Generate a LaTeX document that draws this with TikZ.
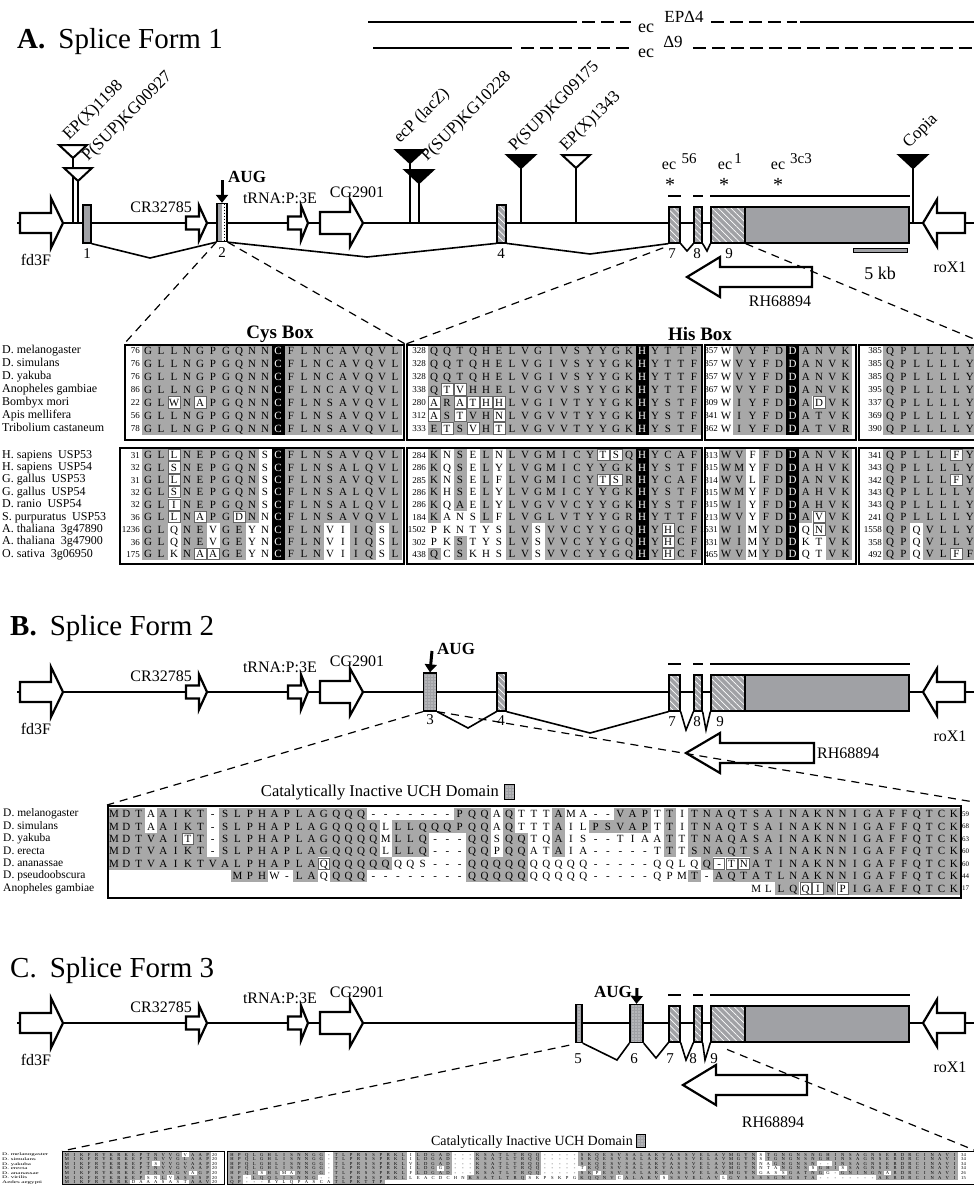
\documentclass[tikz,border=0pt]{standalone}
\usepackage{fontspec}
\setmainfont{Liberation Serif}
\usepackage{graphicx}
\usetikzlibrary{arrows.meta,positioning,calc,patterns.meta}
\definecolor{exgray}{RGB}{160,161,165}
\definecolor{algray}{RGB}{168,168,168}
\definecolor{cellline}{RGB}{100,100,100}
\newcommand{\fsz}[1]{\fontsize{#1}{#1}\selectfont}
% block arrow: tail x, head base x, tip x, y, half body, half head
\newcommand{\garrow}[6]{\draw[garr] (#1,#4-#5) -- (#2,#4-#5) -- (#2,#4-#6) -- (#3,#4)
  -- (#2,#4+#6) -- (#2,#4+#5) -- (#1,#4+#5) -- cycle;}
% insertion: name, x, top y, fill, y of gene line
\newcommand{\instri}[5]{\coordinate (#1) at (#2,#3+13); \coordinate (#1b) at (#2,#5);
  \draw[insstem] (#1) -- (#1b);
  \draw[tri,fill=#4] (#2-14,#3) -- (#2+14,#3) -- (#1) -- cycle;}
% gene line with the neighbouring genes
\newcommand{\genemodel}[2]{%
  \coordinate (#2w) at (17,#1); \coordinate (#2e) at (974,#1);
  \draw[gline] (#2w) -- (#2e);
  \garrow{20}{51}{63}{#1}{10}{25}
  \garrow{186}{199}{207}{#1}{6.5}{17.5}
  \garrow{288}{301}{308}{#1}{6.5}{17.5}
  \garrow{320}{350}{363}{#1}{11}{23.5}
  \garrow{965}{937}{923}{#1}{10}{23.5}
  \node[glab] (#2fd) at (36,#1+37) {fd3F};
  \node[glab,anchor=east] (#2cr) at (192,#1-16) {CR32785};
  \node[glab,anchor=east] (#2tr) at (317,#1-25) {tRNA:P:3E};
  \node[glab] (#2cg) at (357,#1-31) {CG2901};
  \node[glab] (#2ro) at (950,#1+44) {roX1};}
% alignment rows: mask (g gray, b black, w boxed white, n none), then letters (! = white on black, : = empty)
\newcount\alk
\newif\ifalauto
\def\alcol{black}\def\alh{12}
\newcommand{\almask}[5]{\def\alx{#1}\def\alp{#2}\def\aly{#3}\def\alh{#4}\alk=0\relax
  \expandafter\almaskloop#5\relax}
\def\almaskloop#1{\ifx#1\relax\else
  \if#1g\fill[algray] ({\alx+\alp*\the\alk-\alp/2},{\aly-\alh/2}) rectangle ++(\alp,\alh);\fi
  \if#1b\fill[black] ({\alx+\alp*\the\alk-\alp/2},{\aly-\alh/2}) rectangle ++(\alp,\alh);\fi
  \if#1w\draw[wcell] ({\alx+\alp*\the\alk-\alp/2+0.6},{\aly-\alh/2+0.6}) rectangle ++(\alp-1.2,\alh-1.2);\fi
  \advance\alk by 1 \expandafter\almaskloop\fi}
\newcommand{\alseq}[5]{\def\aln{#1}\def\alx{#2}\def\alp{#3}\def\aly{#4}\alk=0\relax
  \expandafter\alseqloop#5\relax}
\def\alseqloop#1{\ifx#1\relax\else
  \if#1!\def\alcol{white}\else
    \if#1:\else
      \ifalauto\ifnum`#1>`Z \else\if#1-\else
        \fill[algray] ({\alx+\alp*\the\alk-\alp/2},{\aly-\alh/2}) rectangle ++(\alp,\alh);\fi\fi\fi
      \node[aa,text=\alcol] (\aln\the\alk) at ({\alx+\alp*\the\alk},\aly) {\uppercase{#1}};
    \fi
    \def\alcol{black}\advance\alk by 1
  \fi
  \expandafter\alseqloop\fi}
\newcommand{\alrow}[7]{\almask{#2}{#3}{#4}{#5}{#6}\alseq{#1}{#2}{#3}{#4}{#7}}

\begin{document}
\begin{tikzpicture}[x=1pt,y=-1pt,
  ttl/.style={font=\fsz{29},anchor=base west,inner sep=0pt},
  glab/.style={font=\fsz{16},inner sep=0pt},
  nlab/.style={font=\fsz{15},inner sep=0pt,text height=10pt,text depth=0pt},
  inslab/.style={font=\fsz{17},anchor=base west,rotate=45,inner sep=0pt,text height=11pt,text depth=0pt},
  boldlab/.style={font=\fsz{17}\bfseries,inner sep=0pt},
  gline/.style={line width=1.5pt},
  garr/.style={draw,line width=2.2pt,fill=white,line join=miter,miter limit=25},
  tri/.style={draw,line width=2pt,line join=miter,miter limit=25},
  insstem/.style={line width=1.6pt},
  exon/.style={draw,line width=1.3pt,fill=exgray,inner sep=0pt,minimum height=38pt},
  hatched/.style={preaction={fill=exgray},pattern={Lines[angle=-45,distance=4.5pt,line width=0.7pt]},pattern color=white},
  stipple/.style={preaction={fill=exgray},pattern={Dots[distance=3pt,radius=0.65pt]},pattern color=white},
  splice/.style={line width=1.6pt},
  zoomln/.style={line width=1.2pt,dash pattern=on 8pt off 6pt},
  tline/.style={line width=1.8pt},
  tdash/.style={line width=1.8pt,dash pattern=on 13pt off 6pt},
  exbar/.style={line width=2.2pt},
  augarr/.style={line width=3pt,-{Triangle[width=12pt,length=8pt]}},
  alframe/.style={draw,line width=2.2pt,inner sep=0pt,anchor=north west},
  wcell/.style={draw=cellline,line width=0.7pt,fill=white},
  spn/.style={anchor=west,inner sep=0pt,font=\fsz{12},text height=8.5pt,text depth=2.5pt},
  alnum/.style={anchor=east,inner sep=0pt,font=\fsz{9},text height=6.5pt,text depth=0pt},
  aa/.style={inner sep=0pt,font=\fsz{11},text height=7.3pt,text depth=0pt}]
\useasboundingbox (0,0) rectangle (974,1189);

% ================= A. splice form 1
\node[ttl] (tA) at (17,48) {\textbf{A.}\hspace{0.45em}Splice Form 1};
% deficiencies
\coordinate (d1a) at (368,22); \coordinate (d1b) at (577,22);
\coordinate (d1c) at (800,22); \coordinate (d1d) at (974,22);
\coordinate (d2a) at (373,48); \coordinate (d2b) at (512,48);
\coordinate (d2d) at (974,48);
\node[glab,font=\fsz{18},text height=8.5pt,text depth=0pt] (ecA) at (646,28) {ec};
\node[glab,font=\fsz{17},text height=11.5pt,text depth=0pt] (epA) at (684,17) {EPΔ4};
\node[glab,font=\fsz{18},text height=8.5pt,text depth=0pt] (ecB) at (646,53) {ec};
\node[glab,font=\fsz{17},text height=11.5pt,text depth=0pt] (dnA) at (673,42) {Δ9};
\draw[tline] (d1a) -- (d1b);
\draw[tdash] ($(d1b)+(5,0)$) -- ($(ecA.west |- d1b)+(-7,0)$);
\draw[tdash] ($(epA.east |- d1c)+(7,0)$) -- ($(d1c)+(-3,0)$);
\draw[tline] (d1c) -- (d1d);
\draw[tline] (d2a) -- (d2b);
\draw[tdash] ($(d2b)+(9,0)$) -- ($(ecB.west |- d2b)+(-7,0)$);
\draw[tdash] ($(dnA.east |- d2d)+(10,0)$) -- (d2d);

\genemodel{223}{A}
% insertions
\instri{iA1}{73}{145}{white}{223}
\instri{iA2}{78}{168}{white}{223}
\instri{iA3}{410}{150}{black}{223}
\instri{iA4}{419}{170}{black}{223}
\instri{iA5}{521}{155}{black}{223}
\instri{iA6}{576}{155}{white}{223}
\instri{iA7}{913}{155}{black}{223}
\node[inslab] (lA1) at (69,141) {EP(X)1198};
\node[inslab] (lA2) at (88,162) {P(SUP)KG00927};
\node[inslab] (lA3) at (400,144) {ecP (lacZ)};
\node[inslab] (lA4) at (427,162) {P(SUP)KG10228};
\node[inslab] (lA5) at (515,152) {P(SUP)KG09175};
\node[inslab] (lA6) at (566,152) {EP(X)1343};
\node[inslab] (lA7) at (909,149) {Copia};
% exons
\node[exon,minimum width=8pt] (a1) at (87,224) {};
\node[exon,minimum width=10pt,path picture={
  \fill[white] (path picture bounding box.north) rectangle (path picture bounding box.south east);
  \draw[line width=0.8pt,dash pattern=on 1.5pt off 1.5pt] ([xshift=2.5pt]path picture bounding box.north) -- ([xshift=2.5pt]path picture bounding box.south);}] (a2) at (222,222.5) {};
\node[exon,hatched,minimum width=9pt] (a4) at (501.5,224) {};
\node[exon,hatched,minimum width=11pt,minimum height=36pt] (a7) at (674.5,225) {};
\node[exon,hatched,minimum width=8pt,minimum height=36pt] (a8) at (698,225) {};
\node[exon,minimum width=198pt,minimum height=36pt] (a9) at (810,225) {};
\node[exon,hatched,minimum width=34pt,minimum height=36pt,anchor=west] (a9h) at (a9.west) {};
\node[nlab] (nA1) at (87,253) {1};
\node[nlab] (nA2) at (222,252) {2};
\node[nlab] (nA4) at (501,253) {4};
\node[nlab] (nA7) at (672,253) {7};
\node[nlab] (nA8) at (697,253) {8};
\node[nlab] (nA9) at (729,253) {9};
% splicing
\coordinate (vA1) at (150,258); \coordinate (vA2) at (367,257); \coordinate (vA3) at (590,254);
\coordinate (vA4) at (687,251); \coordinate (vA5) at (707,251);
\draw[splice] (a1.south east) -- (vA1) -- (a2.south west);
\draw[splice] (a2.south east) -- (vA2) -- (a4.south west);
\draw[splice] (a4.south east) -- (vA3) -- (a7.south west);
\draw[splice] (a7.south east) -- (vA4) -- (a8.south west);
\draw[splice] (a8.south east) -- (vA5) -- (a9.south west);
\draw[exbar] ([yshift=10pt]a7.north west) -- ([yshift=10pt]a7.north east);
\draw[exbar] ([yshift=10pt]a8.north west) -- ([yshift=10pt]a8.north east);
\draw[exbar] ([yshift=10pt]a9.north west) -- ([yshift=10pt]a9.north east);
% start codon, alleles, scale
\coordinate (augA) at (222,180);
\draw[augarr] (augA) -- (a2.north);
\node[boldlab,anchor=west] (tAUGa) at (228,177) {AUG};
\node[glab,text height=7.5pt,text depth=0pt] (ec56) at (669,166) {ec};
\node[glab,font=\fsz{15},text height=10.5pt,text depth=0pt] (s56) at (689,158) {56};
\node[glab,text height=7.5pt,text depth=0pt] (ec1) at (725,166) {ec};
\node[glab,font=\fsz{15},text height=10.5pt,text depth=0pt] (s1) at (738,158) {1};
\node[glab,text height=7.5pt,text depth=0pt] (ec3) at (778,166) {ec};
\node[glab,font=\fsz{15},text height=10.5pt,text depth=0pt] (s3) at (801,158) {3c3};
\node[glab,font=\fsz{20},text height=10pt,text depth=0pt] (st1) at (670,186) {*};
\node[glab,font=\fsz{20},text height=10pt,text depth=0pt] (st2) at (724,186) {*};
\node[glab,font=\fsz{20},text height=10pt,text depth=0pt] (st3) at (778,186) {*};
\node[draw,fill=exgray,line width=0.6pt,inner sep=0pt,minimum width=54pt,minimum height=4pt] (sbar) at (880,250) {};
\node[glab,font=\fsz{18}] (skb) at (880,273) {5 kb};
\garrow{812}{720}{687}{277}{10}{20}
\node[glab] (rhA) at (780,301) {RH68894};

% alignment, upper group
\node[font=\fsz{19}\bfseries,inner sep=0pt] (cysT) at (280,334) {Cys Box};
\node[font=\fsz{19}\bfseries,inner sep=0pt] (hisT) at (700,334) {His Box};
\foreach \sp [count=\r] in {D. melanogaster,D. simulans,D. yakuba,Anopheles gambiae,Bombyx mori,Apis mellifera,Tribolium castaneum}
  \node[spn] (spU\r) at (2,{350.5+13*(\r-1)}) {\sp};
\foreach \nm/\mk/\sq [count=\r] in {
  76/ggggggggggbggggggggg/GLLNGPGQNN!CFLNCAVQVL,
  76/ggggggggggbggggggggg/GLLNGPGQNN!CFLNCAVQVL,
  76/ggggggggggbggggggggg/GLLNGPGQNN!CFLNCAVQVL,
  86/ggggggggggbggggggggg/GLLNGPGQNN!CFLNCAVQVL,
  22/ggwgwgggggbggggggggg/GLWNAPGQNN!CFLNSAVQVL,
  56/ggggggggggbggggggggg/GLLNGPGQNN!CFLNSAVQVL,
  78/ggggggggggbggggggggg/GLLNGPGQNN!CFLNSAVQVL}{
  \pgfmathsetmacro\yy{350.5+13*(\r-1)}
  \node[alnum] (cUn\r) at (140,\yy) {\nm};
  \alrow{cU\r x}{148}{13}{\yy}{13}{\mk}{\sq}}
\foreach \nm/\mk/\sq [count=\r] in {
  328/ggggggggggggggggbgggg/QQTQHELVGIVSYYGK!HYTTF,
  328/ggggggggggggggggbgggg/QQTQHELVGIVSYYGK!HYTTF,
  328/ggggggggggggggggbgggg/QQTQHELVGIVSYYGK!HYTTF,
  338/gwwgggggggggggggbgggg/QTVHHELVGVVSYYGK!HYTTF,
  280/wgwwwwggggggggggbgggg/ARATHHLVGIVTYYGK!HYSTF,
  312/wgwggwggggggggggbgggg/ASTVHNLVGVVTYYGK!HYSTF,
  333/gwgwgwggggggggggbgggg/ETSVHTLVGVVTYYGK!HYSTF}{
  \pgfmathsetmacro\yy{350.5+13*(\r-1)}
  \node[alnum] (hUn\r) at (426,\yy) {\nm};
  \alrow{hU\r x}{434}{13}{\yy}{13}{\mk}{\sq}}
\foreach \nm/\mk/\sq [count=\r] in {
  357/nggggbgggg/WVYFD!DANVK, 357/nggggbgggg/WVYFD!DANVK, 357/nggggbgggg/WVYFD!DANVK,
  367/nggggbgggg/WVYFD!DANVK, 309/nggggbgwgg/WIYFD!DADVK, 341/nggggbgggg/WIYFD!DATVK,
  362/nggggbgggg/WIYFD!DATVR}{
  \pgfmathsetmacro\yy{350.5+13*(\r-1)}
  \node[alnum] (dUn\r) at (718,\yy) {\nm};
  \alrow{dU\r x}{726}{13.3}{\yy}{13}{\mk}{\sq}}
\foreach \nm [count=\r] in {385,385,385,395,337,369,390}{
  \pgfmathsetmacro\yy{350.5+13*(\r-1)}
  \node[alnum] (qUn\r) at (882,\yy) {\nm};
  \alrow{qU\r x}{890}{13.3}{\yy}{13}{ggggggg}{QPLLLLY}}
\node[alframe,minimum width=279pt,minimum height=95pt] (cysU) at (124,344) {};
\node[alframe,minimum width=295pt,minimum height=95pt] (hisU) at (406,344) {};
\node[alframe,minimum width=151pt,minimum height=95pt] (dU) at (704,344) {};
\node[alframe,minimum width=130pt,minimum height=95pt] (qU) at (858,344) {};

% alignment, lower group
\foreach \sp [count=\r] in {H. sapiens\ \ USP53,H. sapiens\ \ USP54,G. gallus\ \ USP53,G. gallus\ \ USP54,D. ranio\ \ USP54,S. purpuratus\ \ USP53,A. thaliana\ \ 3g47890,A. thaliana\ \ 3g47900,O. sativa\ \ 3g06950}
  \node[spn] (spL\r) at (2,{455+12.4*(\r-1)}) {\sp};
\foreach \nm/\mk/\sq [count=\r] in {
  31/ggwggggggnbggggggggg/GLLNEPGQNS!CFLNSAVQVL,
  32/ggwggggggnbggggggggg/GLSNEPGQNS!CFLNSALQVL,
  31/ggwggggggnbggggggggg/GLLNEPGQNS!CFLNSAVQVL,
  32/ggwggggggnbggggggggg/GLSNEPGQNS!CFLNSALQVL,
  32/ggwggggggnbggggggggg/GLINEPGQNS!CFLNSALQVL,
  36/ggwgwggwgnbggggggggg/GLLNAPGDNN!CFLNSAVQVL,
  1236/ggnggnggnnbgggnnggng/GLQNEVGEYN!CFLNVIIQSL,
  36/ggnggnggnnbgggnnggng/GLQNEVGEYN!CFLNVIIQSL,
  175/ggngwwggnnbgggnnggng/GLKNAAGEYN!CFLNVIIQSL}{
  \pgfmathsetmacro\yy{455+12.4*(\r-1)}
  \node[alnum] (cLn\r) at (140,\yy) {\nm};
  \alrow{cL\r x}{148}{13}{\yy}{12.4}{\mk}{\sq}}
\foreach \nm/\mk/\sq [count=\r] in {
  284/gngngngggggggwwgbgggg/KNSELNLVGMICYTSQ!HYCAF,
  286/gngngnggggggggggbgggg/KQSELYLVGMICYYGK!HYSTF,
  285/gngngngggggggwwgbgggg/KNSELFLVGMICYTSR!HYCAF,
  286/gngngnggggggggggbgggg/KHSELYLVGMICYYGK!HYSTF,
  286/gngngnggggggggggbgggg/KQAELYLVGVVCYYGK!HYSTF,
  184/gnnngnggggggggggbgggg/KANSLFLVGLVTYYGR!HYTTF,
  1502/nnnnnnggngggggggbgwgg/PKNTYSLVSVVCYYGQ!HYHCF,
  302/nngnnnggngggggggbgwgg/PKSTYSLVSVVCYYGQ!HYHCF,
  438/gngnnnggngggggggbgwgg/QCSKHSLVSVVCYYGQ!HYHCF}{
  \pgfmathsetmacro\yy{455+12.4*(\r-1)}
  \node[alnum] (hLn\r) at (426,\yy) {\nm};
  \alrow{hL\r x}{434}{13}{\yy}{12.4}{\mk}{\sq}}
\foreach \nm/\mk/\sq [count=\r] in {
  313/ggnggbgggg/WVFFD!DANVK, 315/ggnggbgggg/WMYFD!DAHVK, 314/ggnggbgggg/WVLFD!DANVK,
  315/ggnggbgggg/WMYFD!DAHVK, 315/ggnggbgggg/WIYFD!DAHVK, 213/ggnggbgwgg/WVYFD!DAVVK,
  1531/ggnggbnwgg/WIMYD!DQNVK, 331/ggnggbnngg/WIMYD!DKTVK, 465/ggnggbnngg/WVMYD!DQTVK}{
  \pgfmathsetmacro\yy{455+12.4*(\r-1)}
  \node[alnum] (dLn\r) at (718,\yy) {\nm};
  \alrow{dL\r x}{726}{13.3}{\yy}{12.4}{\mk}{\sq}}
\foreach \nm/\mk/\sq [count=\r] in {
  341/gggggwg/QPLLLFY, 343/ggggggg/QPLLLLY, 342/gggggwg/QPLLLFY,
  343/ggggggg/QPLLLLY, 343/ggggggg/QPLLLLY, 241/ggggggg/QPLLLLY,
  1558/ggngggg/QPQVLLY, 358/ggngggg/QPQVLLY, 492/ggnggwg/QPQVLFF}{
  \pgfmathsetmacro\yy{455+12.4*(\r-1)}
  \node[alnum] (qLn\r) at (882,\yy) {\nm};
  \alrow{qL\r x}{890}{13.3}{\yy}{12.4}{\mk}{\sq}}
\node[alframe,minimum width=284pt,minimum height=116pt] (cysL) at (119,447) {};
\node[alframe,minimum width=295pt,minimum height=116pt] (hisL) at (406,447) {};
\node[alframe,minimum width=151pt,minimum height=116pt] (dL) at (704,447) {};
\node[alframe,minimum width=130pt,minimum height=116pt] (qL) at (858,447) {};
% zoom lines
\coordinate (zA) at (974,339);
\draw[zoomln] (a2.south west) -- (cysU.north west);
\draw[zoomln] (a2.south east) -- (cysU.north east);
\draw[zoomln,shorten <=12pt] (a7.south) -- (hisU.north west);
\draw[zoomln] (a9h.south east) -- (zA);

% ================= B. splice form 2
\node[ttl] (tB) at (10,635) {\textbf{B.}\hspace{0.45em}Splice Form 2};
\genemodel{692}{B}
\node[exon,stipple,minimum width=13pt] (b3) at (430,692) {};
\node[exon,hatched,minimum width=9pt] (b4) at (501.5,692) {};
\node[exon,hatched,minimum width=11pt,minimum height=36pt] (b7) at (674.5,693) {};
\node[exon,hatched,minimum width=8pt,minimum height=36pt] (b8) at (698,693) {};
\node[exon,minimum width=198pt,minimum height=36pt] (b9) at (810,693) {};
\node[exon,hatched,minimum width=34pt,minimum height=36pt,anchor=west] (b9h) at (b9.west) {};
\node[nlab] (nB3) at (430,719) {3};
\node[nlab] (nB4) at (501,720) {4};
\node[nlab] (nB7) at (672,721) {7};
\node[nlab] (nB8) at (697,721) {8};
\node[nlab] (nB9) at (720,721) {9};
\coordinate (vB1) at (468,728); \coordinate (vB2) at (590,733);
\coordinate (vB3) at (686,730); \coordinate (vB4) at (706,730);
\draw[splice] (b3.south east) -- (vB1) -- (b4.south west);
\draw[splice] (b4.south east) -- (vB2) -- (b7.south west);
\draw[splice] (b7.south east) -- (vB3) -- (b8.south west);
\draw[splice] (b8.south east) -- (vB4) -- (b9.south west);
\draw[exbar] ([yshift=10pt]b7.north west) -- ([yshift=10pt]b7.north east);
\draw[exbar] ([yshift=10pt]b8.north west) -- ([yshift=10pt]b8.north east);
\draw[exbar] ([yshift=10pt]b9.north west) -- ([yshift=10pt]b9.north east);
\coordinate (augB) at (432,651);
\draw[augarr] (augB) -- (b3.north);
\node[boldlab,anchor=west] (tAUGb) at (437,649) {AUG};
\garrow{814}{720}{686}{753}{10}{20}
\node[glab,anchor=west] (rhB) at (817,753) {RH68894};
\node[glab,font=\fsz{16.5},anchor=east] (catB) at (499,793) {Catalytically Inactive UCH Domain};
\node[exon,stipple,line width=1pt,minimum width=10pt,minimum height=15pt] (legB) at (509,792) {};
% alignment
\begin{scope}[aa/.style={inner sep=0pt,font=\fsz{11},text height=7.3pt,text depth=0pt},
  spn/.style={anchor=west,inner sep=0pt,font=\fsz{11.5},text height=8pt,text depth=2.4pt}]
\foreach \sp/\mk/\sq/\nr [count=\r] in {
  D. melanogaster/ggg n gggg n gggggggggggg nnnnnnn ggg n g nnn g nnnn ggg n g n gggggggggg gggggggggg gg/
    MDTAAIKT - SLPHAPLAGQQQ ------- PQQAQTTTAMA -- VAPTTITNAQTSAINAKNNIGAFFQTCK/59,
  D. simulans/ggg n gggg n gggggg ggggggg n gggggggg n g nnn g nn ggggg n g n gggggggggg gggggggggg gg/
    MDTAAIKT - SLPHAPLAGQQQQ LLLQQQPQQAQTTTA ILPSVAPTTI TNAQTSAINAKNNIGAFFQTCK/68,
  D. yakuba/gggggg w g n gggggg ggggggg n ggg nnn gg n gg nn g nnnnnnnn g n gggggggggg gggggggggg gg/
    MDTVAITT - SLPHAPLAGQQQQ MLLQ --- QQSQQTQAIS -- TIAATTT NAQASAINAKNNIGAFFQTCK/63,
  D. erecta/gggggggg n gggggg ggggggg n ggg nnn gg n gg nn g nnnnnnnn g n gggggggggg gggggggggg gg/
    MDTVAIKT - SLPHAPLAGQQQQ LLLQ --- QQPQQATAIA ----- TTTSNAQTSAINAKNNIGAFFQTCK/60,
  D. ananassae/ggggggggg gggggggg w ggggg nnn nnn ggggg nnnnn nnnnn nnnn g www ggggggggg gggggggg/
    MDTVAIKTVALPHAPLA QQQQQQQQ S --- QQQQQQQQQQ ----- QQLQQ - TN ATINAKNNIGAFFQTCK/60,
  D. pseudoobscura/nnnnnnnnnn ggg nn gg n ggg nnnnnnnn ggggg nnnnn nnnnn nnn g n gggggggggg gggggggggg/
    :::::::::: MPHW-LAQQQQ -------- QQQQQQQQQQ ----- QPMT- AQTATLNAKNNIGAFFQTCK/44,
  Anopheles gambiae/nnnnnnnnnn nnnnnnnnnn nnnnnnnnnn nnnnnnnnnn nnnnnnnnnn nn nn gg ww g w ggggggggg/
    :::::::::: :::::::::: :::::::::: :::::::::: :::::::::: :: MLLQQINPIGAFFQTCK/17}{
  \pgfmathsetmacro\yy{814+12.4*(\r-1)}
  \node[spn] (sB\r) at (3,\yy) {\sp};
  \alrow{bq\r x}{114}{12.35}{\yy}{12.4}{\mk}{\sq}
  \node[anchor=west,inner sep=0pt,font=\fsz{7},text height=5pt,text depth=0pt] (bn\r) at (962,\yy) {\nr};}
\end{scope}
\node[alframe,minimum width=853pt,minimum height=92pt] (alB) at (107,805) {};
\coordinate (zB) at (974,802);
\draw[zoomln] (b3.south west) -- (alB.north west);
\draw[zoomln] (b3.south east) -- (zB);

% ================= C. splice form 3
\node[ttl] (tC) at (10,977) {C.\hspace{0.45em}Splice Form 3};
\genemodel{1023}{C}
\node[exon,stipple,minimum width=6pt] (c5) at (579,1023.5) {};
\node[exon,stipple,minimum width=13pt] (c6) at (636.5,1023.5) {};
\node[exon,hatched,minimum width=11pt,minimum height=36pt] (c7) at (674.5,1024) {};
\node[exon,hatched,minimum width=8pt,minimum height=36pt] (c8) at (698,1024) {};
\node[exon,minimum width=198pt,minimum height=36pt] (c9) at (810,1024) {};
\node[exon,hatched,minimum width=34pt,minimum height=36pt,anchor=west] (c9h) at (c9.west) {};
\node[nlab] (nC5) at (578,1058) {5};
\node[nlab] (nC6) at (634,1058) {6};
\node[nlab] (nC7) at (670,1058) {7};
\node[nlab] (nC8) at (693,1058) {8};
\node[nlab] (nC9) at (714,1058) {9};
\coordinate (vC1) at (617,1060); \coordinate (vC2) at (656,1058);
\coordinate (vC3) at (686,1060); \coordinate (vC4) at (705,1060);
\draw[splice] (c5.south east) -- (vC1) -- (c6.south west);
\draw[splice] (c6.south east) -- (vC2) -- (c7.south west);
\draw[splice] (c7.south east) -- (vC3) -- (c8.south west);
\draw[splice] (c8.south east) -- (vC4) -- (c9.south west);
\draw[exbar] ([yshift=10pt]c7.north west) -- ([yshift=10pt]c7.north east);
\draw[exbar] ([yshift=10pt]c8.north west) -- ([yshift=10pt]c8.north east);
\draw[exbar] ([yshift=10pt]c9.north west) -- ([yshift=10pt]c9.north east);
\coordinate (augC) at (637,988);
\draw[augarr] (augC) -- (c6.north);
\node[boldlab,anchor=east] (tAUGc) at (632,992) {AUG};
\garrow{807}{716}{683}{1085}{10}{20}
\node[glab] (rhC) at (773,1122) {RH68894};
\node[glab,font=\fsz{14},anchor=east] (catC) at (633,1142) {Catalytically Inactive UCH Domain};
\node[exon,stipple,line width=1pt,minimum width=9pt,minimum height=13pt] (legC) at (641,1141) {};
% alignment
\begin{scope}[aa/.style={inner sep=0pt,font=\fsz{4.6},text height=3.1pt,text depth=0pt}]
\alautotrue \def\alh{4.6}
\foreach \sp/\lft/\rgt/\nr [count=\r] in {
  D. melanogaster/MIKFRYKRKEPTNVVGvAAP/
    HPQLGHLISNNGG-TLPRSSPRKL iLDGAD---KSATLTRQQ-----SKQESVSALAKVASSVELAVMGYN sTGNGNSNGHINSAGNSERDRCINAVI/34,
  D. simulans/MIKFRYKRKEPTNVVGLAAP/
    HPQLGHLISNNGG-TLPRSSPRKL iLDGAD---KSATLTRQQ-----SKQESVSALAKVASSVELAVMGYN sTGNGNSNGHINSAGNSERDRCINAVI/34,
  D. yakuba/MIKFRYKRKEPTsVVGVAAP/
    HPQLGHLISNNGG-TLPRSSPRKL vLDGAD---KSATLTRQQ-----SKQESVSALAKVASSVELAVMGYN naGNGNSN--INSAGNSERDRCINAVI/34,
  D. erecta/MIKFRYKRKEPTNVVGVAAP/
    HPQLGHLISNNGG-TLPRSSPRKL iLDGgD---KSATLTRQQ-----tKQESVSALAKVASSVELAVMGYN ntaNGNSsGHIsSAGNSERDRCINAVI/34,
  D. ananassae/MIKFRYKRKEPTNVVGVaGP/
    HPQLsHLmaNNGG-TLPRSSPRKL fLDGAD---KSATLTRQQ-----SKpESVSALAKVASSVELAVMGYN gassGATNGg-GNINGNaRDRCINAVI/26,
  D. virilis/MIKFRYKRKEPsnLvASSSP/
    SP-LQQLISNNG-- TLPRSSPRKL leacdchnK SATLTRQsk pskpg KQQNVcALAKVsSSVELAVlGYSS SSGNGSTA -------- AERDRCINAVI/15,
  Aedes aegypti/MIKFRYKRKdaaasastAAV/
    QP---rylqpascaTLPKTTP :::::::::: :::::::::: :::::::::: :::::::::: :::::::::: :::::::::: :::::::::: :::::::/}{
  \pgfmathsetmacro\yy{1154.5+4.6*(\r-1)}
  \node[spn,font=\fsz{3.9},text height=2.7pt,text depth=0pt] (sC\r) at (2,\yy) {\scalebox{1.8}[1]{\sp}};
  \alseq{kl\r x}{67}{7.4}{\yy}{\lft}
  \node[anchor=west,inner sep=0pt,font=\fsz{4.6},text height=3.1pt,text depth=0pt] (kln\r) at (212,\yy) {20};
  \alseq{kr\r x}{232}{7.45}{\yy}{\rgt}
  \node[anchor=west,inner sep=0pt,font=\fsz{4.6},text height=3.1pt,text depth=0pt] (krn\r) at (961,\yy) {\nr};}
\end{scope}
\node[alframe,line width=1.2pt,minimum width=162pt,minimum height=33pt] (alC1) at (62,1151) {};
\node[alframe,line width=1.2pt,minimum width=760pt,minimum height=33pt] (alC2) at (227,1151) {};
\coordinate (zC) at (974,1150);
\draw[zoomln,shorten <=10pt] (c5.south) -- (alC1.north west);
\draw[zoomln,shorten <=18pt] (c9.south west) -- (zC);
\end{tikzpicture}
\end{document}
